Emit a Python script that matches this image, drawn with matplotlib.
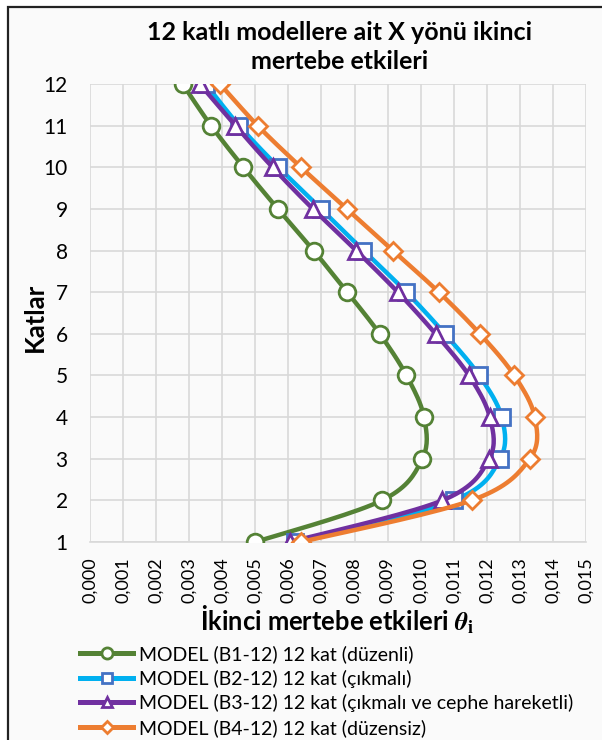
import matplotlib.pyplot as plt
import matplotlib.patches as patches
from matplotlib.lines import Line2D
import numpy as np

plt.rcParams['font.family'] = ['Lato', 'DejaVu Sans']

# floors (Katlar)
floors = np.arange(1, 13)

# second order effects theta (floor 1 -> 12)
b1 = [0.00500, 0.00883, 0.01005, 0.01010, 0.00957, 0.00876,
      0.00778, 0.00676, 0.00568, 0.00464, 0.00366, 0.00280]
b2 = [0.00620, 0.01100, 0.01240, 0.01245, 0.01177, 0.01073,
      0.00957, 0.00827, 0.00699, 0.00570, 0.00451, 0.00350]
b3 = [0.00605, 0.01066, 0.01207, 0.01209, 0.01146, 0.01045,
      0.00931, 0.00805, 0.00674, 0.00552, 0.00440, 0.00332]
b4 = [0.00638, 0.01154, 0.01330, 0.01345, 0.01283, 0.01179,
      0.01055, 0.00916, 0.00777, 0.00638, 0.00507, 0.00393]

labels = ['MODEL (B1-12) 12 kat (düzenli)',
          'MODEL (B2-12) 12 kat (çıkmalı)',
          'MODEL (B3-12) 12 kat (çıkmalı ve cephe hareketli)',
          'MODEL (B4-12) 12 kat (düzensiz)']
line_colors = ['#548235', '#00b0f0', '#7030a0', '#ed7d31']
edge_colors = ['#548235', '#4472c4', '#7030a0', '#ed7d31']
markers = ['o', 's', '^', 'D']
msizes = [12, 11, 12, 9]
leg_msizes = [8, 7.5, 7, 6]

xticks = np.arange(0, 0.0151, 0.001)
xticklabels = ['0,000', '0,001', '0,002', '0,003', '0,004', '0,005', '0,006', '0,007',
               '0,008', '0,009', '0,010', '0,011', '0,012', '0,013', '0,014', '0,015']


def smooth(x, y, sx, sy, n=20):
    # excel style smoothed line (bezier, tension 1/6), done in scaled space
    p = np.column_stack([np.asarray(x) * sx, np.asarray(y) * sy])
    pts = np.vstack([p[0], p, p[-1]])
    out = []
    t = np.linspace(0, 1, n)[:, None]
    for i in range(1, len(pts) - 2):
        p0, p1, p2, p3 = pts[i - 1], pts[i], pts[i + 1], pts[i + 2]
        c1 = p1 + (p2 - p0) / 6
        c2 = p2 - (p3 - p1) / 6
        seg = (1 - t)**3 * p1 + 3 * (1 - t)**2 * t * c1 + 3 * (1 - t) * t**2 * c2 + t**3 * p2
        out.append(seg)
    out = np.vstack(out)
    return out[:, 0] / sx, out[:, 1] / sy


fig = plt.figure(figsize=(6.02, 7.40), dpi=100, facecolor='white')
fig.patches.append(patches.Rectangle((8 / 602, -0.01), 1.0, 1 - 7 / 740 + 0.01,
                                     transform=fig.transFigure, facecolor='#fafafa',
                                     edgecolor='#222222', linewidth=1.6, zorder=-10))

ax = fig.add_axes([90 / 602, 1 - 542 / 740, (586 - 90) / 602, (542 - 84) / 740])
ax.set_facecolor('#fafafa')

series = [b1, b2, b3, b4]
handles = []
for i in range(4):
    sx_, sy_ = smooth(series[i], floors, 496 / 0.015, 458 / 11.0)
    ax.plot(sx_, sy_, color=line_colors[i], lw=3.2, solid_capstyle='round', zorder=3 + i)
    ax.plot(series[i], floors, linestyle='none', marker=markers[i], ms=msizes[i],
            mfc='white', mec=edge_colors[i], mew=2, zorder=3 + i)
    handles.append(Line2D([0], [0], color=line_colors[i], lw=3.6, marker=markers[i],
                          ms=leg_msizes[i], mfc='white', mec=edge_colors[i], mew=2))

ax.set_xlim(0, 0.015)
ax.set_ylim(1, 12)
ax.set_xticks(xticks)
ax.set_xticklabels(xticklabels, rotation=90, fontsize=13)
ax.set_yticks(floors)
ax.set_yticklabels([str(f) for f in floors], fontsize=15)
ax.tick_params(axis='x', length=0, pad=11)
ax.tick_params(axis='y', length=0, pad=16)
ax.grid(True, color='#d9d9d9', lw=1.2)
ax.set_axisbelow(True)
for s in ['top', 'right', 'left']:
    ax.spines[s].set_visible(False)
ax.spines['bottom'].set_color('#d9d9d9')
ax.spines['bottom'].set_linewidth(1.2)

fig.text(340 / 602, 1 - 47 / 740, '12 katlı modellere ait X yönü ikinci\nmertebe etkileri',
         ha='center', va='center', fontsize=18, fontweight='bold', linespacing=1.35)
fig.text(35 / 602, 1 - 317 / 740, 'Katlar', rotation=90, ha='center', va='center',
         fontsize=18.5, fontweight='bold')
fig.text(337 / 602, 1 - 620 / 740, r'İkinci mertebe etkileri $\boldsymbol{\theta}_{\mathbf{i}}$',
         ha='center', va='center', fontsize=18.4, fontweight='bold', math_fontfamily='stix')

fig.legend(handles, labels, loc='upper left', bbox_to_anchor=(80 / 602, 1 - 645 / 740),
           frameon=False, fontsize=14, handlelength=2.75, handletextpad=0.3,
           labelspacing=0.34, borderpad=0, borderaxespad=0)

fig.savefig('out.png', dpi=100, facecolor='white')
